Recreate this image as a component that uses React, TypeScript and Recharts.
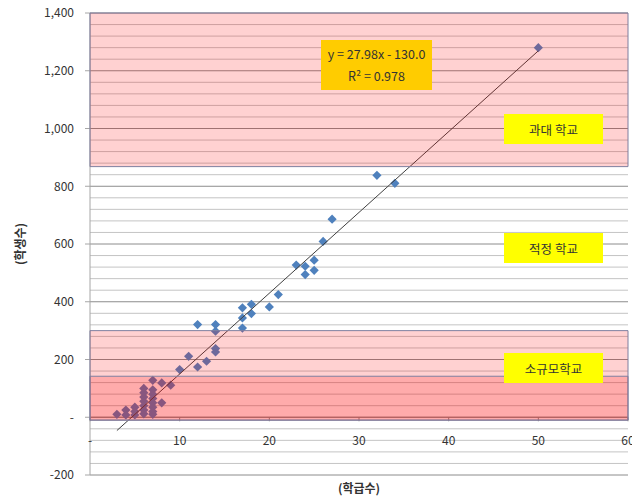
import React from 'react';
import {
  ScatterChart,
  Scatter,
  XAxis,
  YAxis,
  CartesianGrid,
  ReferenceArea,
  ReferenceLine,
  ReferenceDot,
} from 'recharts';

// 학급수 (number of classes) per school
const classCounts = [
  50, 32, 34, 27, 26, 23, 24, 25, 24, 25, 21, 20, 18, 18, 17, 17, 17, 12, 14, 14,
  14, 14, 11, 13, 12, 10, 9, 8, 8, 7, 7, 7, 7, 7, 7, 7, 7, 6, 6, 6, 6, 6, 6, 6, 5,
  5, 5, 4, 4, 3,
];
// 학생수 (number of students) per school
const studentCounts = [
  1280, 838, 810, 686, 609, 527, 523, 544, 494, 509, 425, 382, 391, 359, 379, 344,
  309, 321, 321, 298, 238, 226, 211, 194, 174, 165, 111, 119, 50, 128, 95, 80, 65,
  50, 35, 20, 10, 100, 85, 70, 55, 40, 25, 12, 35, 20, 8, 25, 8, 10,
];

const trendSlope = 27.98;
const trendIntercept = -130.0;
const trendRange = [3, 50];

const xTicks = [0, 10, 20, 30, 40, 50, 60];
const yTicks = [-200, 0, 200, 400, 600, 800, 1000, 1200, 1400];
const yMinorTicks = [
  -160, -120, -80, -40, 40, 80, 120, 160, 240, 280, 320, 360, 440, 480, 520, 560,
  640, 680, 720, 760, 840, 880, 920, 960, 1040, 1080, 1120, 1160, 1240, 1280, 1320,
  1360,
];

const largeBand = [868, 1400];
const smallBand = [-10, 300];
const verySmallBand = [-10, 142];

const equationText = 'y = 27.98x - 130.0';
const r2Text = 'R² = 0.978';
const bandLabels = ['과대 학교', '적정 학교', '소규모학교'];

const points = classCounts.map((c, i) => ({ x: c, y: studentCounts[i] }));

const FONT = "'Noto Sans CJK KR', 'Noto Sans', sans-serif";
const TEXT = '#333333';

const Diamond = (props: any) => {
  const { cx, cy } = props;
  if (cx == null || cy == null) return null;
  const r = 4.6;
  return (
    <polygon
      points={`${cx},${cy - r} ${cx + r},${cy} ${cx},${cy + r} ${cx - r},${cy}`}
      fill="#4F81BD"
    />
  );
};

const fmtY = (v: number) => (v === 0 ? '-' : v.toLocaleString('en-US'));
const fmtX = (v: number) => (v === 0 ? '-' : String(v));

const boxStyle: React.CSSProperties = {
  position: 'absolute',
  background: '#FFFF00',
  color: TEXT,
  fontFamily: FONT,
  fontSize: 12.5,
  display: 'flex',
  alignItems: 'center',
  justifyContent: 'center',
  width: 99,
  height: 30,
  left: 496,
};

export default function App() {
  return (
    <div style={{ position: 'relative', width: 632, height: 502, marginTop: -8 }}>
      <ScatterChart
        width={632}
        height={502}
        margin={{ top: 13, right: 12, bottom: 27, left: 12 }}
      >
        <CartesianGrid
          horizontal
          vertical={false}
          stroke="#8C8C8C"
          strokeWidth={1}
        />
        {yMinorTicks.map((v) => (
          <ReferenceLine
            key={'m' + v}
            y={v}
            stroke="#C4C4C4"
            strokeWidth={1}
          />
        ))}
        <XAxis
          type="number"
          dataKey="x"
          domain={[0, 60]}
          ticks={xTicks}
          hide
        />
        <YAxis
          type="number"
          dataKey="y"
          domain={[-200, 1400]}
          ticks={yTicks}
          interval={0}
          width={70}
          tickFormatter={fmtY}
          axisLine={{ stroke: '#A6A6A6' }}
          tickLine={{ stroke: '#A6A6A6' }}
          tickSize={5}
          tickMargin={11}
          tick={{ fill: TEXT, fontSize: 12, fontFamily: FONT }}
        />
        <ReferenceLine y={0} stroke="#8C8C8C" strokeWidth={1} />
        {xTicks.map((t) => (
          <ReferenceLine
            key={'xt' + t}
            segment={[
              { x: t, y: 0 },
              { x: t, y: -14 },
            ]}
            stroke="#8C8C8C"
          />
        ))}
        {xTicks.map((t) => (
          <ReferenceDot
            key={'xl' + t}
            x={t}
            y={0}
            r={0}
            fill="none"
            stroke="none"
            label={{
              value: fmtX(t),
              position: 'bottom',
              offset: 19,
              fill: TEXT,
              fontSize: 12,
              fontFamily: FONT,
            }}
          />
        ))}
        <Scatter
          data={points}
          shape={<Diamond />}
          isAnimationActive={false}
        />
        <ReferenceLine
          segment={[
            { x: trendRange[0], y: trendSlope * trendRange[0] + trendIntercept },
            { x: trendRange[1], y: trendSlope * trendRange[1] + trendIntercept },
          ]}
          stroke="#404040"
          strokeWidth={1}
          zIndex={650}
        />
        <ReferenceArea
          x1={0}
          x2={60}
          y1={largeBand[0]}
          y2={largeBand[1]}
          fill="#FF0000"
          fillOpacity={0.18}
          stroke="#7F7F9F"
          strokeWidth={1}
          zIndex={700}
        />
        <ReferenceArea
          x1={0}
          x2={60}
          y1={smallBand[0]}
          y2={smallBand[1]}
          fill="#FF0000"
          fillOpacity={0.18}
          stroke="#7F7F9F"
          strokeWidth={1}
          zIndex={700}
        />
        <ReferenceArea
          x1={0}
          x2={60}
          y1={verySmallBand[0]}
          y2={verySmallBand[1]}
          fill="#FF0000"
          fillOpacity={0.18}
          stroke="#7F7F9F"
          strokeWidth={1}
          zIndex={700}
        />
      </ScatterChart>

      <div
        style={{
          position: 'absolute',
          left: 313,
          top: 40,
          width: 111,
          height: 50,
          background: '#FFCC00',
          color: TEXT,
          fontFamily: FONT,
          fontSize: 12.5,
          display: 'flex',
          flexDirection: 'column',
          alignItems: 'center',
          justifyContent: 'center',
          lineHeight: '22px',
        }}
      >
        <div>{equationText}</div>
        <div>{r2Text}</div>
      </div>

      <div style={{ ...boxStyle, top: 114 }}>{bandLabels[0]}</div>
      <div style={{ ...boxStyle, top: 233 }}>{bandLabels[1]}</div>
      <div style={{ ...boxStyle, top: 353 }}>{bandLabels[2]}</div>

      <div
        style={{
          position: 'absolute',
          left: 351 - 40,
          top: 479,
          width: 80,
          textAlign: 'center',
          fontFamily: FONT,
          fontWeight: 'bold',
          fontSize: 12,
          color: TEXT,
        }}
      >
        (학급수)
      </div>
      <div
        style={{
          position: 'absolute',
          left: 12 - 40,
          top: 244 - 9,
          width: 80,
          height: 18,
          textAlign: 'center',
          fontFamily: FONT,
          fontWeight: 'bold',
          fontSize: 12,
          color: TEXT,
          transform: 'rotate(-90deg)',
        }}
      >
        (학생수)
      </div>
    </div>
  );
}
